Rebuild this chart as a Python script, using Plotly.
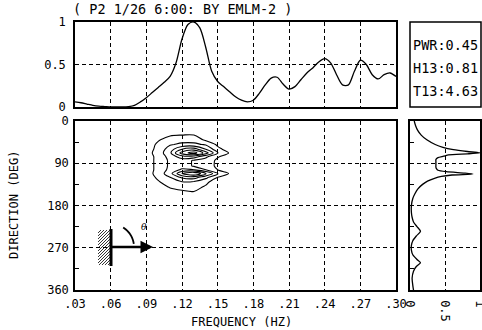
import math
import plotly.graph_objects as go

W, H = 482, 330
def px(x): return x / W
def py(y): return 1 - y / H

# ---- data ----
freq = [0.030, 0.035, 0.040, 0.045, 0.050, 0.055, 0.060, 0.065, 0.070, 0.075,
        0.080, 0.085, 0.090, 0.095, 0.100, 0.105, 0.110, 0.115, 0.120, 0.125,
        0.130, 0.135, 0.140, 0.145, 0.150, 0.155, 0.160, 0.165, 0.170, 0.175,
        0.180, 0.185, 0.190, 0.195, 0.200, 0.205, 0.210, 0.215, 0.220, 0.225,
        0.230, 0.235, 0.240, 0.245, 0.250, 0.255, 0.260, 0.265, 0.270, 0.275,
        0.280, 0.285, 0.290, 0.295, 0.300]
spec = [0.06, 0.05, 0.035, 0.02, 0.01, 0.005, 0.0, 0.0, 0.0, 0.005,
        0.02, 0.06, 0.11, 0.17, 0.23, 0.29, 0.36, 0.52, 0.80, 0.97,
        1.00, 0.93, 0.70, 0.42, 0.30, 0.24, 0.18, 0.12, 0.08, 0.06,
        0.08, 0.16, 0.26, 0.34, 0.35, 0.27, 0.21, 0.24, 0.32, 0.40,
        0.46, 0.53, 0.57, 0.52, 0.38, 0.26, 0.26, 0.42, 0.55, 0.50,
        0.38, 0.33, 0.38, 0.40, 0.36]

dir_deg = [0, 10, 20, 30, 40, 50, 56, 61, 65, 68, 70, 72, 75, 78, 82, 86, 90, 94,
           98, 102, 105, 108, 111, 113, 115, 118, 122, 128, 135, 145, 155, 165,
           180, 195, 205, 215, 225, 235, 245, 255, 265, 275, 285, 295, 302, 310,
           320, 335, 350, 360]
dir_val = [0.06, 0.08, 0.11, 0.16, 0.24, 0.36, 0.47, 0.62, 0.82, 1.00, 0.82, 0.55,
           0.48, 0.40, 0.37, 0.37, 0.37, 0.37, 0.37, 0.38, 0.40, 0.52, 0.78, 0.90,
           0.60, 0.45, 0.35, 0.25, 0.18, 0.11, 0.07, 0.04, 0.02, 0.02, 0.03, 0.05,
           0.10, 0.15, 0.09, 0.04, 0.02, 0.02, 0.04, 0.10, 0.15, 0.09, 0.05, 0.03,
           0.04, 0.05]

cont_freq = [0.09, 0.10, 0.11, 0.12, 0.13, 0.14, 0.15, 0.16, 0.17]
cont_dir = [20, 30, 40, 50, 60, 68, 76, 84, 90, 96, 104, 112, 120, 130, 140, 150, 160]
cont_z = [
    [0.0, 0.0, 0.0, 0.3, 0.4, 0.2, 0.0, 0.0, 0.0],
    [0.0, 0.6, 0.9, 1.0, 1.0, 0.7, 0.3, 0.1, 0.0],
    [0.2, 0.9, 1.4, 1.6, 1.6, 0.8, 0.6, 0.2, 0.0],
    [0.4, 1.2, 1.9, 2.2, 2.2, 1.9, 0.8, 0.3, 0.0],
    [0.5, 1.3, 2.5, 4.0, 4.5, 3.0, 1.3, 0.5, 0.1],
    [0.6, 1.4, 2.8, 5.5, 6.5, 4.5, 2.1, 0.9, 0.3],
    [0.5, 1.3, 2.4, 3.5, 3.5, 2.2, 1.1, 0.4, 0.1],
    [0.5, 1.3, 2.2, 2.5, 1.9, 1.6, 0.8, 0.3, 0.0],
    [0.5, 1.3, 2.2, 2.4, 1.9, 1.5, 0.8, 0.3, 0.0],
    [0.5, 1.3, 2.2, 2.5, 1.9, 1.5, 0.8, 0.2, 0.0],
    [0.5, 1.3, 2.3, 3.2, 3.0, 2.0, 1.0, 0.4, 0.0],
    [0.5, 1.4, 2.6, 5.0, 6.0, 4.2, 2.1, 0.9, 0.3],
    [0.4, 1.2, 2.0, 3.2, 3.5, 2.3, 1.0, 0.3, 0.0],
    [0.2, 0.9, 1.5, 1.9, 1.8, 1.2, 0.5, 0.1, 0.0],
    [0.1, 0.6, 1.1, 1.3, 1.3, 0.9, 0.3, 0.0, 0.0],
    [0.0, 0.2, 0.7, 0.9, 1.0, 0.5, 0.1, 0.0, 0.0],
    [0.0, 0.0, 0.2, 0.3, 0.3, 0.1, 0.0, 0.0, 0.0],
]

freq_ticks = [0.03, 0.06, 0.09, 0.12, 0.15, 0.18, 0.21, 0.24, 0.27, 0.30]
freq_ticklabels = [".03", ".06", ".09", ".12", ".15", ".18", ".21", ".24", ".27", ".30"]
dir_ticks = [0, 90, 180, 270, 360]
dir_ticklabels = ["0", "90", "180", "270", "360"]
dir_minor = [45, 135, 225, 315]
spec_ticks = [0, 0.5, 1]
spec_ticklabels = ["0", "0.5", "1"]
stats = ["PWR:0.45", "H13:0.81", "T13:4.63"]
title_text = "( P2 1/26 6:00: BY EMLM-2 )"

FONT = "DejaVu Sans Mono"

fig = go.Figure()
fig.add_trace(go.Scatter(x=freq, y=spec, mode="lines",
                         line=dict(color="black", width=1.3, shape="spline", smoothing=0.8),
                         xaxis="x", yaxis="y", showlegend=False, hoverinfo="skip"))
fig.add_trace(go.Contour(x=cont_freq, y=cont_dir, z=cont_z,
                         contours=dict(coloring="lines", start=1, end=6, size=1),
                         line=dict(width=1.1, smoothing=1),
                         colorscale=[[0, "black"], [1, "black"]], showscale=False,
                         xaxis="x2", yaxis="y2", hoverinfo="skip"))
fig.add_trace(go.Scatter(x=dir_val, y=dir_deg, mode="lines",
                         line=dict(color="black", width=1.3, shape="spline", smoothing=0.6),
                         xaxis="x3", yaxis="y3", showlegend=False, hoverinfo="skip",
                         cliponaxis=True))

grid = dict(showgrid=True, gridcolor="black", gridwidth=1, griddash="4px,3px")
frame = dict(showline=True, mirror=True, linecolor="black", linewidth=1.5, zeroline=False,
             automargin=False)
tf = dict(family=FONT, size=12, color="black")

fig.update_layout(
    template="none",
    width=W, height=H, margin=dict(l=0, r=0, t=0, b=0, pad=0),
    paper_bgcolor="white", plot_bgcolor="white", showlegend=False,
    font=dict(family=FONT, size=12, color="black"),
    xaxis=dict(domain=[px(75), px(396)], range=[0.03, 0.30], tickvals=freq_ticks,
               showticklabels=False, ticks="", anchor="y", **grid, **frame),
    yaxis=dict(domain=[py(107), py(22)], range=[0, 1], tickvals=spec_ticks,
               ticktext=spec_ticklabels, ticks="", tickfont=tf, anchor="x",
               ticklabelstandoff=5, **grid, **frame),
    xaxis2=dict(domain=[px(75), px(396)], range=[0.03, 0.30], tickvals=freq_ticks,
                ticktext=freq_ticklabels, ticks="", tickfont=tf, anchor="y2",
                ticklabelstandoff=2, **grid, **frame),
    yaxis2=dict(domain=[py(290), py(121)], range=[360, 0], tickvals=dir_ticks,
                ticktext=dir_ticklabels, ticks="", tickfont=tf, anchor="x2",
                ticklabelstandoff=2,
                minor=dict(tickvals=dir_minor, ticks="inside", ticklen=4, tickcolor="black",
                           showgrid=False),
                **grid, **frame),
    xaxis3=dict(domain=[px(410), px(480)], range=[0, 1], tickvals=spec_ticks,
                ticktext=spec_ticklabels, tickangle=90, ticks="", tickfont=tf,
                anchor="y3", ticklabelstandoff=6, ticklabeloverflow="allow",
                **grid, **frame),
    yaxis3=dict(domain=[py(290), py(121)], range=[360, 0], tickvals=dir_ticks,
                showticklabels=False, ticks="", anchor="x3",
                minor=dict(tickvals=dir_minor, ticks="inside", ticklen=4, tickcolor="black",
                           showgrid=False),
                **grid, **frame),
)

shapes = []
annotations = []

# stats box
shapes.append(dict(type="rect", xref="paper", yref="paper", x0=px(410), x1=px(481),
                   y0=py(107), y1=py(22), line=dict(color="black", width=1.5)))
for txt, yy in zip(stats, [45, 68, 91]):
    annotations.append(dict(text=txt, x=px(411), y=py(yy), xref="paper", yref="paper",
                            xanchor="left", yanchor="middle", showarrow=False,
                            font=dict(family=FONT, size=13.5, color="black")))

# title and axis titles
annotations.append(dict(text=title_text, x=px(71), y=py(9), xref="paper", yref="paper",
                        xanchor="left", yanchor="middle", showarrow=False,
                        font=dict(family=FONT, size=13.5, color="black")))
annotations.append(dict(text="FREQUENCY (HZ)", x=px(241), y=py(322), xref="paper", yref="paper",
                        xanchor="center", yanchor="middle", showarrow=False,
                        font=dict(family=FONT, size=12, color="black")))
annotations.append(dict(text="DIRECTION (DEG)", x=px(14), y=py(205), xref="paper", yref="paper",
                        xanchor="center", yanchor="middle", showarrow=False, textangle=-90,
                        font=dict(family=FONT, size=12, color="black")))

# wave-direction icon (decoration)
hx0, hx1, hy0, hy1 = 98, 110, 230, 265
path = ""
c = hx0 + hy0
while c <= hx1 + hy1:
    xa = max(hx0, c - hy1)
    xb = min(hx1, c - hy0)
    if xb > xa:
        path += "M %.5f,%.5f L %.5f,%.5f " % (px(xa), py(c - xa), px(xb), py(c - xb))
    c += 3
shapes.append(dict(type="path", xref="paper", yref="paper", path=path,
                   line=dict(color="black", width=0.8)))
shapes.append(dict(type="line", xref="paper", yref="paper", x0=px(111), x1=px(111),
                   y0=py(229), y1=py(266), line=dict(color="black", width=3)))
shapes.append(dict(type="line", xref="paper", yref="paper", x0=px(111), x1=px(146),
                   y0=py(247), y1=py(247), line=dict(color="black", width=2.5)))
annotations.append(dict(x=px(153), y=py(247), xref="paper", yref="paper", text="",
                        showarrow=True, ax=-12, ay=0, arrowhead=2, arrowsize=1,
                        arrowwidth=2.5, arrowcolor="black"))
arc = ""
for i in range(13):
    a = math.radians(58 - i * 50 / 12)
    xx, yy = 111 + 23 * math.cos(a), 247 - 23 * math.sin(a)
    arc += ("M" if i == 0 else " L") + " %.5f,%.5f" % (px(xx), py(yy))
shapes.append(dict(type="path", xref="paper", yref="paper", path=arc,
                   line=dict(color="black", width=1.8)))
annotations.append(dict(text="<i>θ</i>", x=px(139), y=py(234), xref="paper", yref="paper",
                        showarrow=False, font=dict(family="DejaVu Serif", size=9, color="black")))

fig.update_layout(shapes=shapes, annotations=annotations)
fig.write_html("out.html")
